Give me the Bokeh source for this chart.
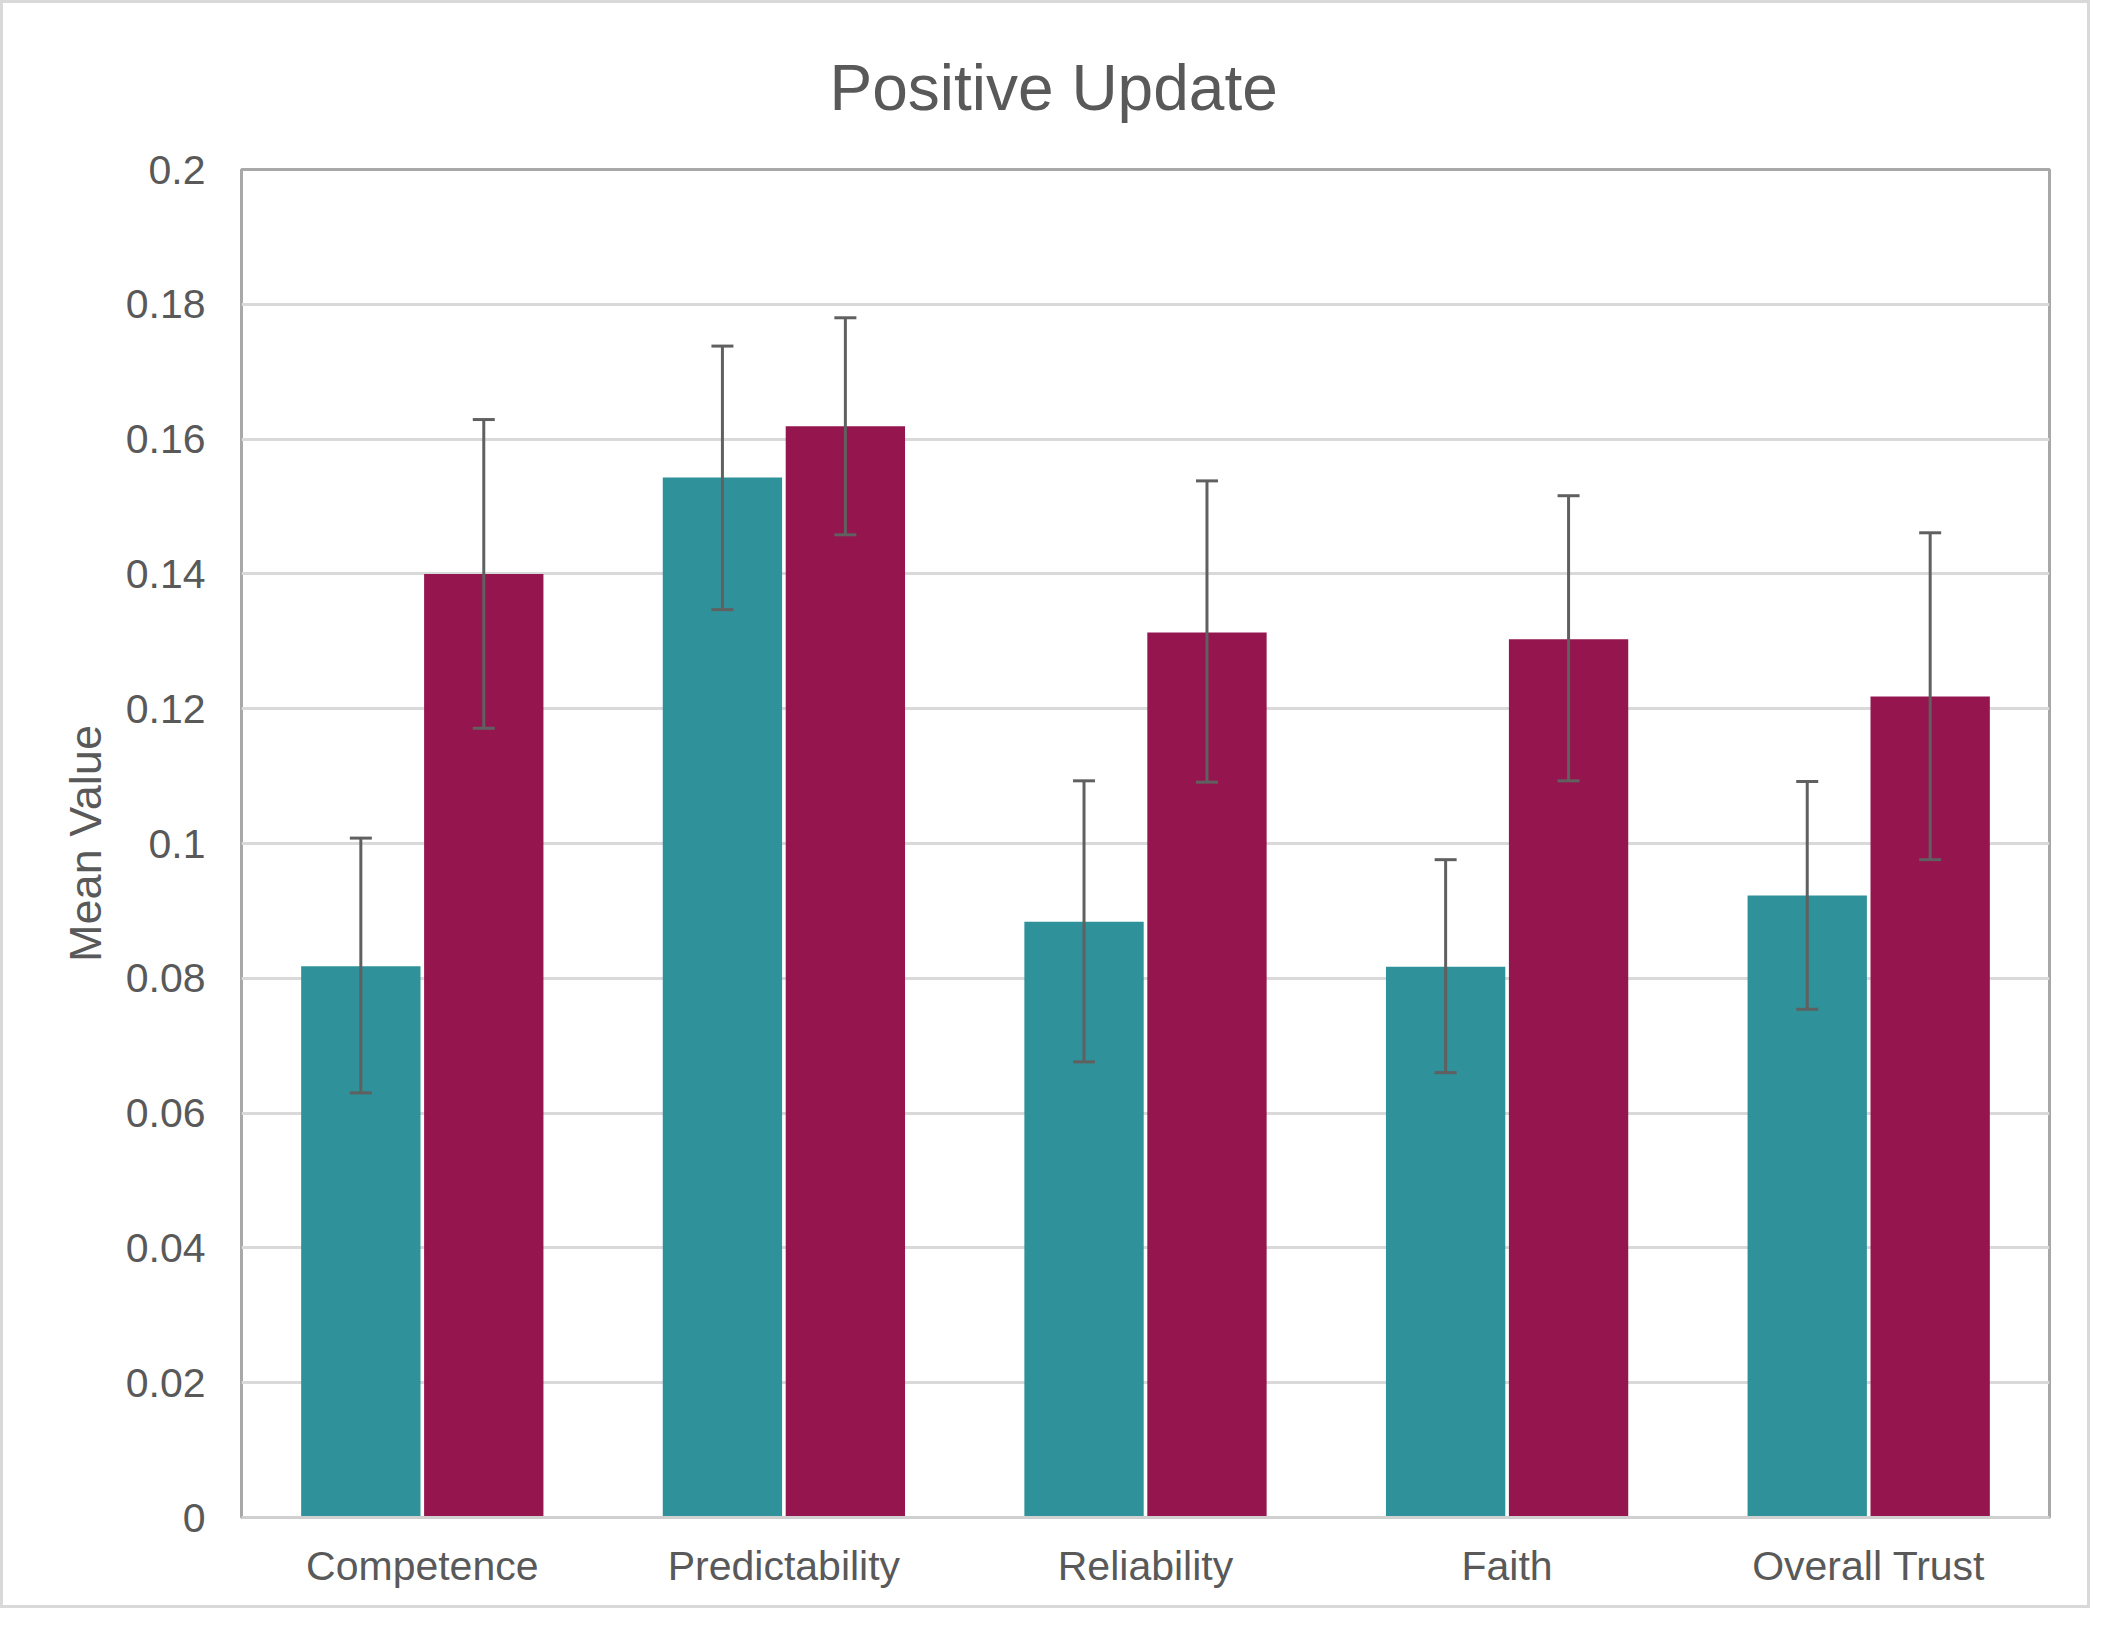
from bokeh.plotting import figure
from bokeh.models import ColumnDataSource, FactorRange, Range1d, FixedTicker, Whisker, TeeHead, Title
from bokeh.transform import dodge
from bokeh.embed import file_html
from bokeh.resources import INLINE

# ---- data ----
categories = ["Competence", "Predictability", "Reliability", "Faith", "Overall Trust"]
teal_means = [0.0818, 0.1543, 0.0884, 0.0817, 0.0923]
teal_upper = [0.1008, 0.1738, 0.1093, 0.0976, 0.1092]
teal_lower = [0.0630, 0.1347, 0.0676, 0.0660, 0.0754]
red_means = [0.1400, 0.1619, 0.1313, 0.1303, 0.1218]
red_upper = [0.1629, 0.1780, 0.1538, 0.1516, 0.1461]
red_lower = [0.1171, 0.1458, 0.1091, 0.1093, 0.0976]
y_ticks = [0.0, 0.02, 0.04, 0.06, 0.08, 0.1, 0.12, 0.14, 0.16, 0.18, 0.2]
y_tick_labels = ["0", "0.02", "0.04", "0.06", "0.08", "0.1", "0.12", "0.14", "0.16", "0.18", "0.2"]
title_text = "Positive Update"
y_label = "Mean Value"

TEAL = "#2F9199"
RED = "#95154F"
TEXT = "#595959"
FONT = "Liberation Sans"

source = ColumnDataSource(data=dict(
    cat=categories,
    teal=teal_means, teal_up=teal_upper, teal_lo=teal_lower,
    red=red_means, red_up=red_upper, red_lo=red_lower,
))

p = figure(
    x_range=FactorRange(*categories),
    y_range=Range1d(0, 0.2),
    width=2090, height=1608,
    output_backend="svg", toolbar_location=None,
    min_border_left=238, min_border_right=44,
    min_border_top=165, min_border_bottom=94,
)

# title, shifted so that it is centred on the whole chart rather than the frame
p.title = Title(text=title_text, align="left", offset=588, standoff=92,
                text_font=FONT, text_font_size="64px", text_font_style="normal",
                text_color=TEXT)

p.vbar(x=dodge("cat", -0.17, range=p.x_range), top="teal", width=0.33,
       source=source, fill_color=TEAL, line_color=None)
p.vbar(x=dodge("cat", 0.17, range=p.x_range), top="red", width=0.33,
       source=source, fill_color=RED, line_color=None)

for off, up, lo in [(-0.17, "teal_up", "teal_lo"), (0.17, "red_up", "red_lo")]:
    w = Whisker(source=source, base=dodge("cat", off, range=p.x_range),
                upper=up, lower=lo, line_color="#606060", line_width=3,
                level="overlay",
                upper_head=TeeHead(size=22, line_color="#606060", line_width=3),
                lower_head=TeeHead(size=22, line_color="#606060", line_width=3))
    p.add_layout(w)

# axes
p.yaxis.ticker = FixedTicker(ticks=y_ticks)
p.yaxis.major_label_overrides = {t: l for t, l in zip(y_ticks, y_tick_labels)}
p.yaxis.axis_label = y_label
p.yaxis.axis_label_text_font = FONT
p.yaxis.axis_label_text_font_size = "45px"
p.yaxis.axis_label_text_font_style = "normal"
p.yaxis.axis_label_text_color = TEXT
p.yaxis.axis_label_standoff = 12
p.yaxis.major_label_text_font = FONT
p.yaxis.major_label_text_font_size = "41px"
p.yaxis.major_label_text_color = TEXT
p.yaxis.major_label_standoff = 36
p.yaxis.major_tick_out = 0
p.yaxis.major_tick_in = 0
p.yaxis.major_tick_line_color = None
p.yaxis.minor_tick_line_color = None
p.yaxis.axis_line_color = None

p.xaxis.major_label_text_font = FONT
p.xaxis.major_label_text_font_size = "41px"
p.xaxis.major_label_text_color = TEXT
p.xaxis.major_label_standoff = 25
p.xaxis.major_tick_out = 0
p.xaxis.major_tick_in = 0
p.xaxis.major_tick_line_color = None
p.xaxis.minor_tick_line_color = None
p.xaxis.axis_line_color = "#d0d0d0"
p.xaxis.axis_line_width = 3

p.xgrid.grid_line_color = None
p.ygrid.grid_line_color = "#d9d9d9"
p.ygrid.grid_line_width = 3

p.outline_line_color = "#a8a8a8"
p.outline_line_width = 3
p.background_fill_color = "white"
p.border_fill_color = "white"
p.styles = {"border": "3px solid #d9d9d9", "box-sizing": "border-box"}

open("out.html", "w").write(file_html(p, INLINE))
